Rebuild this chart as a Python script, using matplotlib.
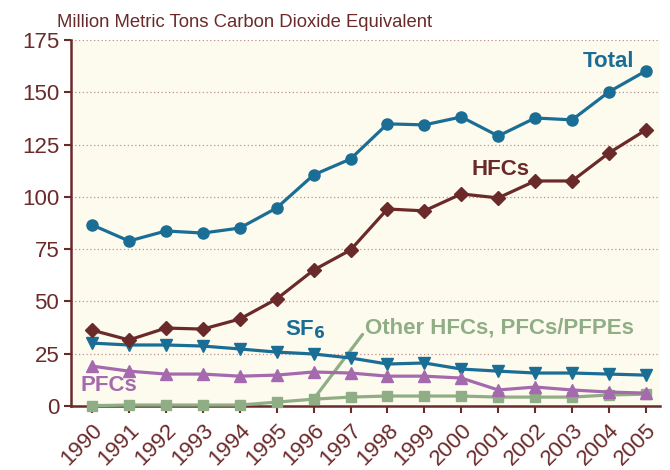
import numpy as np
import matplotlib
matplotlib.use('Agg')
import matplotlib.pyplot as plt

plt.rcParams['font.family'] = ['Liberation Sans', 'DejaVu Sans']

# Data
years = list(range(1990, 2006))
total = [86.6, 78.9, 83.7, 82.7, 85.1, 94.7, 110.5, 118.1, 134.9, 134.4,
         138.2, 129.1, 137.7, 136.8, 150.2, 160.2]
hfcs = [36.3, 31.6, 37.3, 36.8, 41.6, 51.2, 65.0, 74.6, 94.2, 93.3,
        101.4, 99.5, 107.6, 107.6, 121.0, 132.0]
sf6 = [30.1, 29.2, 29.2, 28.7, 27.3, 25.8, 24.9, 23.0, 20.1, 20.6,
       17.7, 16.7, 15.8, 15.8, 15.3, 14.8]
pfcs = [19.1, 16.7, 15.3, 15.3, 14.3, 14.8, 16.3, 15.8, 14.3, 14.3,
        13.4, 7.7, 9.1, 7.7, 6.7, 6.2]
other = [0.2, 0.5, 0.5, 0.5, 0.5, 1.9, 3.3, 4.3, 4.8, 4.8,
         4.8, 4.3, 4.3, 4.3, 5.3, 5.7]
yticks = [0, 25, 50, 75, 100, 125, 150, 175]

maroon = '#6b2a2a'
blue = '#1a6e96'
purple = '#a46aad'
green = '#8fae85'
bg = '#fdfaee'

fig = plt.figure(figsize=(6.7, 4.7), dpi=100)
ax = fig.add_axes([0.106, 0.136, 0.879, 0.779])
ax.set_facecolor(bg)

lw = 2.3
ax.plot(years, total, color=blue, lw=lw, marker='o', ms=8, zorder=5, clip_on=False)
ax.plot(years, hfcs, color=maroon, lw=lw, marker='D', ms=7, zorder=5, clip_on=False)
ax.plot(years, sf6, color=blue, lw=lw, marker='v', ms=9, zorder=4, clip_on=False)
ax.plot(years, pfcs, color=purple, lw=lw, marker='^', ms=9, zorder=4, clip_on=False)
ax.plot(years, other, color=green, lw=lw, marker='s', ms=7, zorder=3, clip_on=False)

# Series labels
bold = dict(fontsize=16, fontweight='bold')
ax.text(2004.0, 164.5, 'Total', color=blue, ha='center', va='center', **bold)
ax.text(2001.05, 113, 'HFCs', color=maroon, ha='center', va='center', **bold)
ax.text(1995.77, 36.3, 'SF$_\\mathbf{6}$', color=blue, ha='center', va='center', **bold)
ax.text(1990.46, 9.6, 'PFCs', color=purple, ha='center', va='center', **bold)
ax.annotate('Other HFCs, PFCs/PFPEs', xy=(1996, other[6]), xytext=(1997.4, 37.5),
            color=green, ha='left', va='center', fontsize=16, fontweight='bold',
            arrowprops=dict(arrowstyle='-', color=green, lw=2.3, shrinkA=0, shrinkB=0,
                            relpos=(0, 0.35)))

ax.set_xlim(1989.43, 2005.38)
ax.set_ylim(0, 175)
ax.set_yticks(yticks)
ax.set_xticks(years)
ax.set_xticklabels([str(y) for y in years], rotation=45, ha='right', rotation_mode='anchor')
ax.tick_params(colors=maroon, labelsize=16, length=5, width=1.5)
ax.tick_params(axis='x', pad=5)

# dotted gridlines
for y in yticks[1:]:
    ax.axhline(y, color='#c09090', lw=0.9, ls=(0, (1, 2)), zorder=1)

for s in ['top', 'right']:
    ax.spines[s].set_visible(False)
for s in ['left', 'bottom']:
    ax.spines[s].set_color(maroon)
    ax.spines[s].set_linewidth(1.8)

fig.text(0.085, 0.953, 'Million Metric Tons Carbon Dioxide Equivalent',
         color=maroon, fontsize=13.3, ha='left', va='center')

fig.savefig('out.png', dpi=100)
